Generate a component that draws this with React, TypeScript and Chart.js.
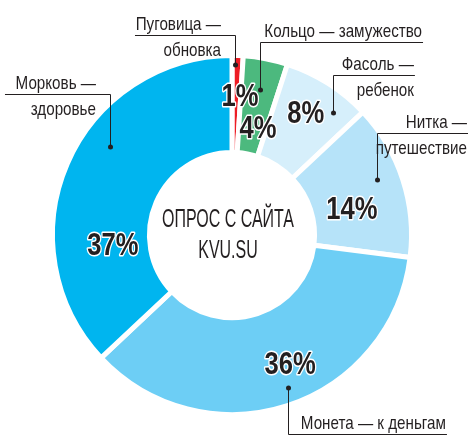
import React, { useEffect, useRef } from "react";
import { Chart, registerables } from "chart.js";

Chart.register(...registerables);

// ---- data ----
const categories = ["Пуговица", "Кольцо", "Фасоль", "Нитка", "Монета", "Морковь"];
const meanings = ["обновка", "замужество", "ребенок", "путешествие", "к деньгам", "здоровье"];
const shares = [1, 4, 8, 14, 36, 37];
const centerTitle = ["ОПРОС С САЙТА", "KVU.SU"];

// ---- styles / placement ----
const sliceColors = ["#ed1c24", "#4cb97e", "#d6effb", "#b6e3f9", "#6dcef5", "#00b5ef"];
const inkColor = "#231f20";

// t = fraction along the slice angle, r = fraction of outer radius
const percentPlacement = [
  { t: 0.92, r: 0.78 },
  { t: 0.69, r: 0.618 },
  { t: 0.45, r: 0.8 },
  { t: 0.605, r: 0.685 },
  { t: 0.45, r: 0.783 },
  { t: 0.292, r: 0.665 },
];

// leader lines: dot in slice, vertical rise, horizontal run
const callouts = [
  { t: 0.28, r: 0.947, rise: -30, run: -100, oneLine: false },
  { t: 0.51, r: 0.823, rise: -48, run: 163, oneLine: true },
  { t: 0.75, r: 0.882, rise: -38, run: 82, oneLine: false },
  { t: 0.445, r: 0.864, rise: -47, run: 91, oneLine: false },
  { t: 0.484, r: 0.908, rise: 46, run: 159, oneLine: true },
  { t: 0.593, r: 0.838, rise: -53, run: -105, oneLine: false },
];

const FONT_FAMILY = "'Liberation Sans', Arial, sans-serif";

function drawText(
  ctx: CanvasRenderingContext2D,
  text: string,
  x: number,
  y: number,
  align: CanvasTextAlign,
  font: string,
  scaleX: number,
  halo = 0
) {
  ctx.save();
  ctx.translate(x, y);
  ctx.scale(scaleX, 1);
  ctx.font = font;
  ctx.textAlign = align;
  ctx.textBaseline = "alphabetic";
  if (halo > 0) {
    ctx.lineJoin = "round";
    ctx.lineWidth = halo;
    ctx.strokeStyle = "#ffffff";
    ctx.strokeText(text, 0, 0);
  }
  ctx.fillStyle = inkColor;
  ctx.fillText(text, 0, 0);
  ctx.restore();
}

const annotationPlugin = {
  id: "kvuAnnotations",
  afterDatasetsDraw(chart: any) {
    const ctx: CanvasRenderingContext2D = chart.ctx;
    const meta = chart.getDatasetMeta(0);
    const arcs = meta.data as any[];
    if (!arcs.length) return;
    const cx = arcs[0].x;
    const cy = arcs[0].y;

    // leader lines
    arcs.forEach((arc: any, i: number) => {
      const c = callouts[i];
      const a = arc.startAngle + c.t * (arc.endAngle - arc.startAngle);
      const dx = cx + Math.cos(a) * arc.outerRadius * c.r;
      const dy = cy + Math.sin(a) * arc.outerRadius * c.r;
      const ly = dy + c.rise;
      const ex = dx + c.run;
      ctx.save();
      ctx.strokeStyle = inkColor;
      ctx.lineWidth = 1;
      ctx.beginPath();
      ctx.moveTo(Math.round(dx) + 0.5, dy);
      ctx.lineTo(Math.round(dx) + 0.5, Math.round(ly) + 0.5);
      ctx.lineTo(ex, Math.round(ly) + 0.5);
      ctx.stroke();
      ctx.fillStyle = inkColor;
      ctx.beginPath();
      ctx.arc(Math.round(dx) + 0.5, dy, 2.5, 0, Math.PI * 2);
      ctx.fill();
      ctx.restore();

      const textRight = c.run > 0 ? ex - 1 : dx - 14;
      const font = `19px ${FONT_FAMILY}`;
      if (c.oneLine) {
        drawText(ctx, `${categories[i]} — ${meanings[i]}`, textRight, ly - 5, "right", font, 0.8);
      } else {
        drawText(ctx, `${categories[i]} —`, textRight, ly - 5, "right", font, 0.8);
        drawText(ctx, meanings[i], textRight, ly + 21, "right", font, 0.8);
      }
    });

    // percentages
    arcs.forEach((arc: any, i: number) => {
      const p = percentPlacement[i];
      const a = arc.startAngle + p.t * (arc.endAngle - arc.startAngle);
      const x = cx + Math.cos(a) * arc.outerRadius * p.r;
      const y = cy + Math.sin(a) * arc.outerRadius * p.r;
      drawText(ctx, `${shares[i]}%`, x, y + 11, "center", `bold 32px ${FONT_FAMILY}`, 0.8, 3);
    });

    // center title
    drawText(ctx, centerTitle[0], cx - 4, cy - 8, "center", `25px ${FONT_FAMILY}`, 0.64);
    drawText(ctx, centerTitle[1], cx - 4, cy + 23, "center", `25px ${FONT_FAMILY}`, 0.64);
  },
};

export default function App() {
  const canvasRef = useRef<HTMLCanvasElement | null>(null);

  useEffect(() => {
    if (!canvasRef.current) return;
    const chart = new Chart(canvasRef.current, {
      type: "doughnut",
      data: {
        labels: categories,
        datasets: [
          {
            data: shares,
            backgroundColor: sliceColors,
            borderColor: "#ffffff",
            borderWidth: 5,
            hoverOffset: 0,
          },
        ],
      },
      options: {
        responsive: false,
        animation: false,
        events: [],
        cutout: "46%",
        layout: { padding: { left: 50, right: 54, top: 53, bottom: 19 } },
        plugins: {
          legend: { display: false },
          tooltip: { enabled: false },
        },
      },
      plugins: [annotationPlugin],
    } as any);
    return () => chart.destroy();
  }, []);

  return (
    <div style={{ position: "absolute", left: 0, top: 0, width: 468, height: 436, background: "#ffffff" }}>
      <canvas ref={canvasRef} width={468} height={436} style={{ display: "block" }} />
    </div>
  );
}
